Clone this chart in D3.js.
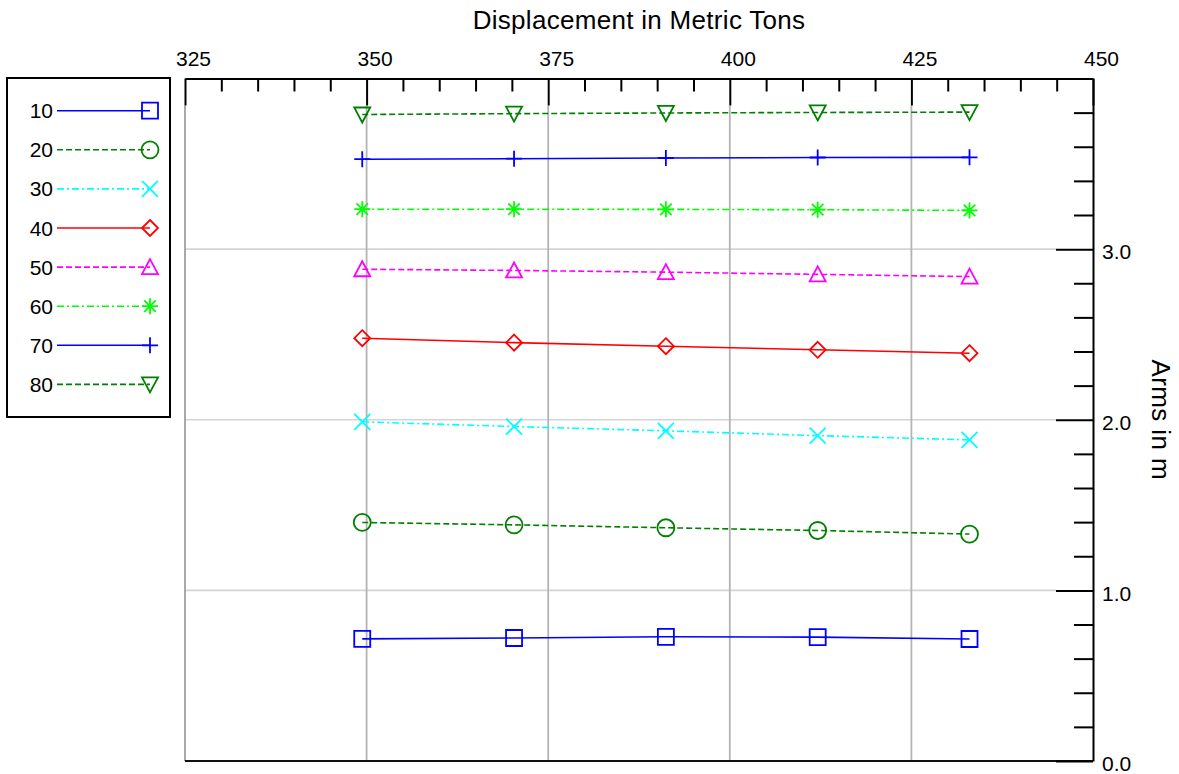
<!DOCTYPE html>
<html>
<head>
<meta charset="utf-8">
<script src="https://cdn.jsdelivr.net/npm/d3@7"></script>
<style>
  body { margin: 0; background: #fff; }
  svg { display: block; font-family: "Liberation Sans", Arial, sans-serif; }
</style>
</head>
<body>
<svg id="chart" width="1179" height="774"></svg>
<script>
// Displacement (metric tons) on the x axis
const displacement = [349.4, 370.3, 391.2, 412.1, 433.0];

// one curve per legend entry
const seriesNames = ['10', '20', '30', '40', '50', '60', '70', '80'];
const arms10 = [0.716, 0.721, 0.728, 0.726, 0.715];
const arms20 = [1.398, 1.384, 1.367, 1.351, 1.330];
const arms30 = [1.988, 1.960, 1.935, 1.907, 1.882];
const arms40 = [2.478, 2.452, 2.431, 2.410, 2.390];
const arms50 = [2.882, 2.875, 2.865, 2.852, 2.839];
const arms60 = [3.234, 3.234, 3.233, 3.231, 3.227];
const arms70 = [3.527, 3.530, 3.534, 3.537, 3.538];
const arms80 = [3.789, 3.794, 3.798, 3.801, 3.803];

const xTicks = [325, 350, 375, 400, 425, 450];
const yTicks = [0, 1, 2, 3];

const styles = [
  { color: '#0000ff', dash: null,          marker: 'square' },
  { color: '#008000', dash: '6,3',         marker: 'circle' },
  { color: '#00ffff', dash: '7,3,2,3',     marker: 'x' },
  { color: '#ff0000', dash: null,          marker: 'diamond' },
  { color: '#ff00ff', dash: '6,3',         marker: 'triangleUp' },
  { color: '#00ff00', dash: '7,3,2,3',     marker: 'asterisk' },
  { color: '#0000ff', dash: null,          marker: 'plus' },
  { color: '#008000', dash: '6,3',         marker: 'triangleDown' }
];

const allArms = [arms10, arms20, arms30, arms40, arms50, arms60, arms70, arms80];
const series = seriesNames.map((name, i) => ({
  name,
  style: styles[i],
  points: displacement.map((d, j) => ({ x: d, y: allArms[i][j] }))
}));

const svg = d3.select('#chart');
const plotLeft = 185, plotRight = 1093, plotTop = 78.5, plotBottom = 761;

const x = d3.scaleLinear().domain([325, 450]).range([plotLeft, plotRight]);
const y = d3.scaleLinear().domain([0, 4]).range([plotBottom, plotTop]);

const majorLen = 27;

// grid
const grid = svg.append('g');
grid.selectAll('line.h')
  .data(yTicks.filter(d => d > 0))
  .join('line')
  .attr('x1', plotLeft).attr('x2', plotRight - 37)
  .attr('y1', d => y(d)).attr('y2', d => y(d))
  .attr('stroke', '#d4d4d4').attr('stroke-width', 1.6);
grid.selectAll('line.v')
  .data(xTicks.filter(d => d < 450))
  .join('line')
  .attr('x1', d => x(d)).attr('x2', d => x(d))
  .attr('y1', plotTop + majorLen).attr('y2', plotBottom)
  .attr('stroke', d => d === 325 ? '#a0a0a0' : '#b4b4b4').attr('stroke-width', 1.8);

// bottom frame line
svg.append('line')
  .attr('x1', plotLeft).attr('x2', plotRight)
  .attr('y1', plotBottom).attr('y2', plotBottom)
  .attr('stroke', '#111').attr('stroke-width', 2);

// top axis
const xAxis = svg.append('g')
  .attr('transform', `translate(0,${plotTop})`)
  .call(d3.axisTop(x).tickValues(xTicks).tickSizeInner(-majorLen).tickSizeOuter(0).tickPadding(13));
xAxis.append('g')
  .call(d3.axisTop(x).tickValues(d3.range(330, 450, 5).filter(d => d % 25 !== 0))
    .tickSizeInner(-13).tickSizeOuter(0).tickFormat(''))
  .select('.domain').remove();

// right axis
const yAxis = svg.append('g')
  .attr('transform', `translate(${plotRight},0)`)
  .call(d3.axisRight(y).tickValues(yTicks).tickSizeInner(-37).tickSizeOuter(0)
    .tickPadding(9).tickFormat(d3.format('.1f')));
yAxis.append('g')
  .call(d3.axisRight(y).tickValues(d3.range(0.2, 4, 0.2).filter(d => Math.abs(d - Math.round(d)) > 0.01))
    .tickSizeInner(-19).tickSizeOuter(0).tickFormat(''))
  .select('.domain').remove();

svg.selectAll('.tick line, .domain').attr('stroke', '#000').attr('stroke-width', 2);
xAxis.selectAll('.tick text').attr('font-size', 21).attr('fill', '#000').attr('dx', 8)
  .attr('font-family', '"Liberation Sans", Arial, sans-serif');
yAxis.selectAll('.tick text').attr('font-size', 21).attr('fill', '#000').attr('dy', '0.46em')
  .attr('font-family', '"Liberation Sans", Arial, sans-serif');

// titles
svg.append('text')
  .attr('x', 639).attr('y', 29)
  .attr('text-anchor', 'middle').attr('font-size', 26).attr('letter-spacing', 0.3)
  .text('Displacement in Metric Tons');
svg.append('text')
  .attr('transform', `translate(1152,${y(2)}) rotate(90)`)
  .attr('text-anchor', 'middle').attr('font-size', 26).attr('letter-spacing', 0.4)
  .text('Arms in m');

// markers
function markerPath(type, s) {
  const h = s / 2;
  switch (type) {
    case 'square': return `M${-h},${-h}H${h}V${h}H${-h}Z`;
    case 'circle': return `M${h + 0.5},0A${h + 0.5},${h + 0.5} 0 1,1 ${-h - 0.5},0A${h + 0.5},${h + 0.5} 0 1,1 ${h + 0.5},0Z`;
    case 'x': return `M${-h},${-h}L${h},${h}M${-h},${h}L${h},${-h}`;
    case 'diamond': return `M0,${-h}L${h},0L0,${h}L${-h},0Z`;
    case 'triangleUp': return `M0,${-h}L${h},${h - 1}L${-h},${h - 1}Z`;
    case 'triangleDown': return `M0,${h}L${h},${-h + 1}L${-h},${-h + 1}Z`;
    case 'plus': return `M${-h},0H${h}M0,${-h}V${h}`;
    case 'asterisk': {
      const d = h * 0.72;
      return `M${-h},0H${h}M0,${-h}V${h}M${-d},${-d}L${d},${d}M${-d},${d}L${d},${-d}`;
    }
  }
}

const line = d3.line().x(d => x(d.x)).y(d => y(d.y));

const plot = svg.append('g');
series.forEach(s => {
  const g = plot.append('g');
  g.append('path')
    .datum(s.points)
    .attr('d', line)
    .attr('fill', 'none')
    .attr('stroke', s.style.color)
    .attr('stroke-width', 1.6)
    .attr('stroke-dasharray', s.style.dash);
  g.selectAll('path.m')
    .data(s.points)
    .join('path')
    .attr('class', 'm')
    .attr('transform', d => `translate(${x(d.x)},${y(d.y)})`)
    .attr('d', markerPath(s.style.marker, 16))
    .attr('fill', 'none')
    .attr('stroke', s.style.color)
    .attr('stroke-width', 1.8);
});

// legend
const legend = svg.append('g');
legend.append('rect')
  .attr('x', 7).attr('y', 78).attr('width', 163).attr('height', 339)
  .attr('fill', '#fff').attr('stroke', '#000').attr('stroke-width', 2);
const item = legend.selectAll('g.item')
  .data(series)
  .join('g')
  .attr('transform', (d, i) => `translate(0,${110.7 + i * 39.1})`);
item.append('text')
  .attr('x', 53).attr('dy', '0.36em')
  .attr('text-anchor', 'end').attr('font-size', 21)
  .text(d => d.name);
item.append('line')
  .attr('x1', 57).attr('x2', 150)
  .attr('stroke', d => d.style.color)
  .attr('stroke-width', 1.6)
  .attr('stroke-dasharray', d => d.style.dash);
item.append('path')
  .attr('transform', 'translate(150,0)')
  .attr('d', d => markerPath(d.style.marker, 16))
  .attr('fill', 'none')
  .attr('stroke', d => d.style.color)
  .attr('stroke-width', 1.8);
</script>
</body>
</html>
